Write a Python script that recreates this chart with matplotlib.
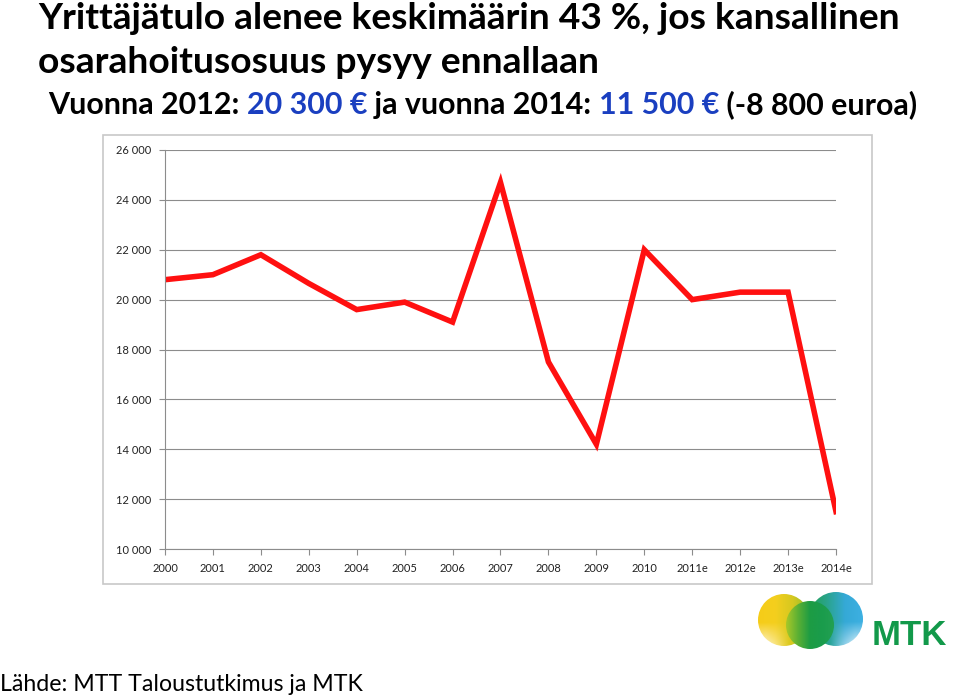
import matplotlib
matplotlib.use('Agg')
import matplotlib.pyplot as plt
import numpy as np
from matplotlib.patches import Rectangle, Circle
from matplotlib.colors import LinearSegmentedColormap

years = ['2000', '2001', '2002', '2003', '2004', '2005', '2006', '2007',
         '2008', '2009', '2010', '2011e', '2012e', '2013e', '2014e']
income = [20800, 21000, 21800, 20650, 19600, 19900, 19100, 24700,
          17500, 14200, 22000, 20000, 20300, 20300, 11500]
yticks = [10000, 12000, 14000, 16000, 18000, 20000, 22000, 24000, 26000]

title1 = 'Yrittäjätulo alenee keskimäärin 43 %, jos kansallinen'
title2 = 'osarahoitusosuus pysyy ennallaan'
sub_parts = [('Vuonna 2012: ', 'black'), ('20 300 €', '#1a3fc0'),
             (' ja vuonna 2014: ', 'black'), ('11 500 €', '#1a3fc0'),
             (' (-8 800 euroa)', 'black')]
source = 'Lähde: MTT Taloustutkimus ja MTK'

plt.rcParams['font.family'] = ['Lato', 'DejaVu Sans']

W, H = 960, 696
fig = plt.figure(figsize=(9.6, 6.96), dpi=100)
r = fig.canvas.get_renderer()

def fy(py):
    return 1 - py / H

def fit_text(x, y, s, width, **kw):
    t = fig.text(x / W, fy(y), s, va='baseline', **kw)
    w = t.get_window_extent(r).width
    t.set_fontsize(t.get_fontsize() * width / w)
    return t

fit_text(38, 29, title1, 862, fontsize=30, weight='bold')
fit_text(38, 73, title2, 560, fontsize=30, weight='bold')

# subtitle in pieces, coloured
full = ''.join(p for p, c in sub_parts)
tmp = fig.text(0, 0, full, fontsize=22, weight='bold')
fs = 22 * 867 / tmp.get_window_extent(r).width
tmp.remove()
x = 48
for part, col in sub_parts:
    t = fig.text(x / W, fy(114), part, fontsize=fs, weight='bold', color=col, va='baseline')
    x += t.get_window_extent(r).width

fit_text(0, 691, source, 365, fontsize=16)

# chart frame
fig.patches.append(Rectangle((103 / W, fy(584)), 769 / W, 449 / H, transform=fig.transFigure,
                             fill=False, edgecolor='#c8c8c8', lw=1.2))

ax = fig.add_axes([165 / W, fy(549), (836 - 165) / W, (549 - 150) / H])
xs = np.arange(len(years))
ax.plot(xs, income, color='#ff1010', lw=4, solid_joinstyle='miter')
ax.set_xlim(0, len(years) - 1)
ax.set_ylim(10000, 26000)
ax.set_yticks(yticks)
ax.set_yticklabels([f'{v:,}'.replace(',', ' ') for v in yticks], fontsize=8)
ax.set_xticks(xs)
ax.set_xticklabels(years, fontsize=8)
ax.grid(axis='y', color='#8c8c8c', lw=0.8)
ax.set_axisbelow(True)
for s in ['top', 'right']:
    ax.spines[s].set_visible(False)
ax.spines['left'].set_color('#8c8c8c')
ax.spines['bottom'].set_color('#8c8c8c')
ax.tick_params(axis='y', length=4, color='#8c8c8c', pad=6, labelcolor='#222222')
ax.tick_params(axis='x', length=4, color='#8c8c8c', pad=6, labelcolor='#222222')

# MTK logo
lax = fig.add_axes([750 / W, fy(652), 120 / W, 60 / H])
lax.axis('off')

def blob(colors, fade, cx, cy, rad):
    n = 200
    gx, gy = np.meshgrid(np.linspace(0, 1, n), np.linspace(1, 0, n))
    cm = LinearSegmentedColormap.from_list('g', colors)
    img = cm(gx)[..., :3]
    if fade == 'left':
        f = np.clip((0.45 - gy) * 2.2, 0, 1) * np.clip((0.6 - gx) * 2.2, 0, 1) * 0.8
    elif fade == 'right':
        f = np.clip((0.45 - gy) * 2.2, 0, 1) * np.clip((gx - 0.4) * 2.2, 0, 1) * 0.8
    else:
        f = np.zeros_like(gx)
    img = img * (1 - f[..., None]) + f[..., None]
    im = lax.imshow(img, extent=(cx - rad, cx + rad, cy - rad, cy + rad), aspect='auto',
                    interpolation='bilinear')
    im.set_clip_path(Circle((cx, cy), rad, transform=lax.transData))

blob(['#f6cc18', '#f4cf1e', '#d6c820', '#8cbd2c'], 'left', 34, 32, 26)
blob(['#22a052', '#2aa48c', '#35a9d6', '#3db0e2'], 'right', 86, 33, 27)
blob(['#a8c828', '#5cb034', '#1d9c44', '#1a9c4c', '#22a052'], None, 60, 27, 24)
lax.set_xlim(0, 120)
lax.set_ylim(0, 60)

fig.text(872 / W, fy(645), 'MTK', fontsize=25, weight='bold', color='#12994a',
         family=['Liberation Sans', 'DejaVu Sans'], va='baseline')

fig.savefig('out.png', dpi=100)
